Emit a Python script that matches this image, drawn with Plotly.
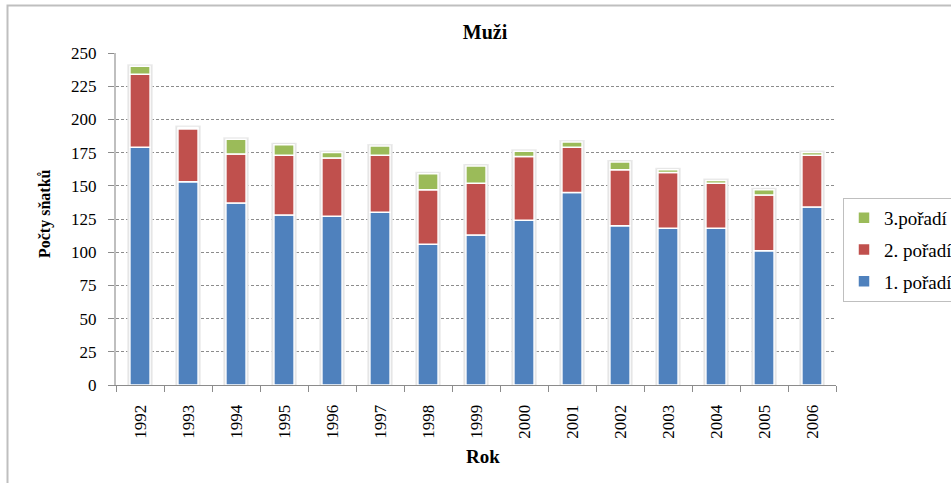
import plotly.graph_objects as go

years = ["1992", "1993", "1994", "1995", "1996", "1997", "1998", "1999",
         "2000", "2001", "2002", "2003", "2004", "2005", "2006"]
first_order = [179, 153, 137, 128, 127, 130, 106, 113, 124, 145, 120, 118, 118, 101, 134]
second_order = [55, 40, 37, 45, 44, 43, 41, 39, 48, 34, 42, 42, 34, 42, 39]
third_order = [6, 1, 11, 8, 4, 7, 12, 13, 4, 4, 6, 2, 2, 4, 2]
y_ticks = [0, 25, 50, 75, 100, 125, 150, 175, 200, 225, 250]

FONT = "Liberation Serif"
W, H = 951, 483
L, R, T, B = 116, 115, 53, 98
pw, ph = W - L - R, H - T - B
BAR_W = 0.42

def px_x(px):
    return (px - L) / pw

def px_y(py):
    return (H - B - py) / ph

base_second = list(first_order)
base_third = [a + b for a, b in zip(first_order, second_order)]
totals = [a + b + c for a, b, c in zip(first_order, second_order, third_order)]

fig = go.Figure()
# soft shadow behind each stacked column
fig.add_trace(go.Bar(
    x=years, y=[t + 1.5 for t in totals], width=BAR_W + 0.11,
    marker=dict(color="#ebebeb", line=dict(width=0)), showlegend=False, hoverinfo="skip",
))
fig.add_trace(go.Bar(
    x=years, y=[t + 0.8 for t in totals], width=BAR_W + 0.05,
    marker=dict(color="#dcdcdc", line=dict(width=0)), showlegend=False, hoverinfo="skip",
))
series = [
    ("1. pořadí", first_order, [0] * len(years), "#4F81BD", 3),
    ("2. pořadí", second_order, base_second, "#C0504D", 2),
    ("3.pořadí", third_order, base_third, "#9BBB59", 1),
]
for name, vals, base, col, rank in series:
    fig.add_trace(go.Bar(
        x=years, y=vals, base=base, name=name, legendrank=rank, legendgroup=name,
        width=BAR_W, marker=dict(color=col, line=dict(color="white", width=1.5)),
    ))

fig.update_layout(
    width=W, height=H,
    margin=dict(l=L, r=R, t=T, b=B, autoexpand=False),
    barmode="overlay",
    paper_bgcolor="white", plot_bgcolor="white",
    font=dict(family=FONT, size=17, color="black"),
    title=dict(text="<b>Muži</b>", x=px_x(485), xref="paper", xanchor="center",
               y=1 - 32 / H, yanchor="middle", font=dict(size=20, family=FONT)),
    legend=dict(x=843 / W, y=1 - 198 / H, xref="container", yref="container",
                xanchor="left", yanchor="top",
                traceorder="grouped", bordercolor="#bfbfbf", borderwidth=1,
                font=dict(size=19, family=FONT, color="black"), bgcolor="white",
                tracegroupgap=4),
    showlegend=True,
)
fig.update_yaxes(
    range=[0, 250], tickvals=y_ticks, showgrid=True, gridcolor="#8c8c8c",
    griddash="3px,2px", gridwidth=1, showline=True, linecolor="#bfbfbf",
    linewidth=2, ticks="outside", ticklen=6, tickcolor="#8c8c8c",
    ticklabelstandoff=8, zeroline=False,
    tickfont=dict(size=17, family=FONT, color="black"),
)
fig.update_xaxes(
    type="category", tickangle=-90, showline=True, linecolor="#8c8c8c",
    linewidth=1, ticks="outside", ticklen=6, tickcolor="#8c8c8c",
    tickson="boundaries", ticklabelstandoff=12, range=[-0.5, len(years) - 0.5],
    tickfont=dict(size=17, family=FONT, color="black"),
)
fig.add_annotation(text="<b>Počty sňatků</b>", textangle=-90, x=px_x(45), y=px_y(214),
                   xref="paper", yref="paper", xanchor="center", yanchor="middle",
                   showarrow=False, font=dict(size=16, family=FONT))
fig.add_annotation(text="<b>Rok</b>", x=px_x(483), y=px_y(456),
                   xref="paper", yref="paper", xanchor="center", yanchor="middle",
                   showarrow=False, font=dict(size=19, family=FONT))
fig.add_shape(type="rect", xref="paper", yref="paper",
              x0=px_x(7.5), x1=px_x(1000), y0=px_y(600), y1=px_y(5.5),
              line=dict(color="#bfbfbf", width=2), layer="below")
fig.write_html("out.html", config={"displayModeBar": False},
               post_script="document.body.style.margin='0';")
